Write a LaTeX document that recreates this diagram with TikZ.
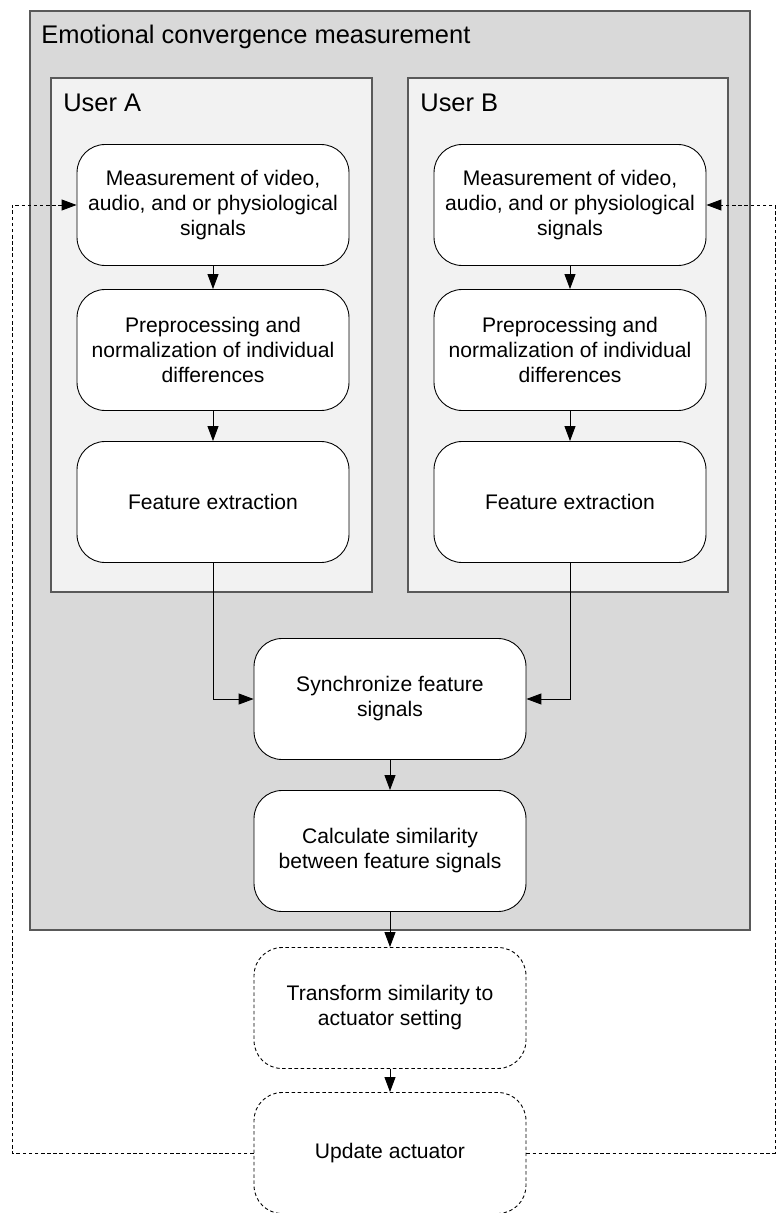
\documentclass[tikz,border=0pt]{standalone}
\usepackage{fontspec}
\setmainfont{Liberation Sans}
\usetikzlibrary{arrows.meta}
\definecolor{outergray}{rgb}{0.85, 0.85, 0.85}
\definecolor{innergray}{rgb}{0.95, 0.95, 0.95}
\definecolor{framegray}{rgb}{0.35, 0.35, 0.35}

\begin{document}
\begin{tikzpicture}[x=0.02cm,y=-0.02cm,
    stepbox/.style={rectangle,rounded corners=0.56cm,draw,fill=white,line width=0.5pt,
      minimum width=5.44cm,minimum height=2.42cm,align=center,
      font=\fontsize{12}{14.2}\selectfont},
    dashbox/.style={stepbox,dash pattern=on 2pt off 1.5pt},
    flow/.style={line width=0.5pt,-{Triangle[length=3mm,width=2.2mm]}},
    feedback/.style={flow,dash pattern=on 2pt off 1.5pt},
    frame/.style={draw=framegray,line width=0.7pt},
    heading/.style={anchor=base west,inner sep=0pt,font=\fontsize{14.5}{17}\selectfont}
  ]
    \useasboundingbox (0,0) rectangle (776,1213);

    \draw[frame,fill=outergray] (30,11) rectangle (750,930);
    \node[heading] (title) at (41,44) {Emotional convergence measurement};
    \draw[frame,fill=innergray] (51,78) rectangle (372,592);
    \node[heading] (userA) at (63,112) {User A};
    \draw[frame,fill=innergray] (408,78) rectangle (728,592);
    \node[heading] (userB) at (420,112) {User B};

\node[stepbox] (A1) at (213,205) {Measurement of video,\\audio, and or physiological\\signals};
\node[stepbox] (A2) at (213,350) {Preprocessing and\\normalization of individual\\differences};
\node[stepbox] (A3) at (213,502) {Feature extraction};
\node[stepbox] (B1) at (570,205) {Measurement of video,\\audio, and or physiological\\signals};
\node[stepbox] (B2) at (570,350) {Preprocessing and\\normalization of individual\\differences};
\node[stepbox] (B3) at (570,502) {Feature extraction};
\node[stepbox] (sync) at (390,699) {Synchronize feature\\signals};
\node[stepbox] (calc) at (390,851) {Calculate similarity\\between feature signals};
\node[dashbox] (trans) at (390,1008) {Transform similarity to\\actuator setting};
\node[dashbox] (upd) at (390,1153) {Update actuator};
\coordinate (fbL) at (12,1153);
\coordinate (fbR) at (775,1153);

\draw[flow] (A1) -- (A2);
\draw[flow] (A2) -- (A3);
\draw[flow] (B1) -- (B2);
\draw[flow] (B2) -- (B3);
\draw[flow] (A3.south) |- (sync.west);
\draw[flow] (B3.south) |- (sync.east);
\draw[flow] (sync) -- (calc);
\draw[flow] (calc) -- (trans);
\draw[flow] (trans) -- (upd);
\draw[feedback] (upd.west) -- (fbL) |- (A1.west);
\draw[feedback] (upd.east) -- (fbR) |- (B1.east);

  \end{tikzpicture}
\end{document}
